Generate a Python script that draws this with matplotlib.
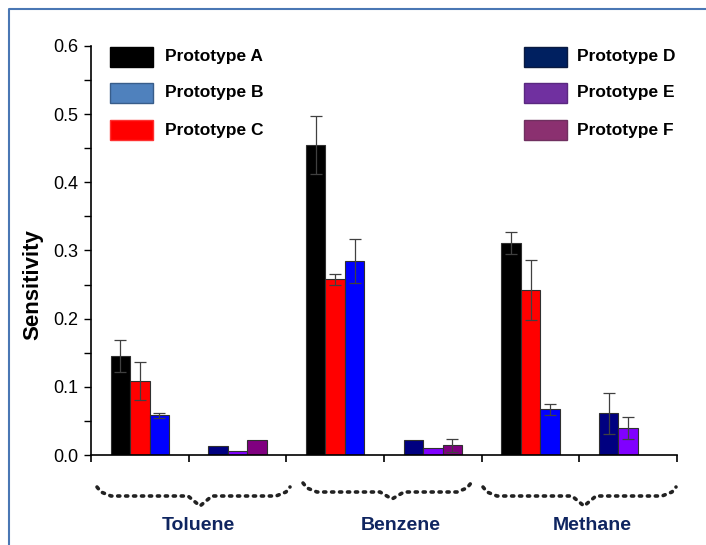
import numpy as np
import matplotlib
matplotlib.use('Agg')
import matplotlib.pyplot as plt
from matplotlib.patches import Rectangle
from matplotlib.lines import Line2D

plt.rcParams['font.family'] = ['Liberation Sans', 'DejaVu Sans']

# data
groups = ['Toluene', 'Benzene', 'Methane']
proto_a = [0.145, 0.455, 0.311]
proto_a_err = [0.023, 0.043, 0.016]
proto_c = [0.109, 0.258, 0.242]
proto_c_err = [0.028, 0.008, 0.044]
proto_b = [0.058, 0.285, 0.067]
proto_b_err = [0.004, 0.032, 0.008]
proto_d = [0.013, 0.022, 0.061]
proto_d_err = [0.0, 0.0, 0.030]
proto_e = [0.006, 0.011, 0.040]
proto_e_err = [0.0, 0.0, 0.016]
proto_f = [0.022, 0.014, np.nan]
proto_f_err = [0.0, 0.010, 0.0]

W, H = 706, 545
fig = plt.figure(figsize=(W / 100, H / 100), dpi=100)
ax = fig.add_axes([91 / W, 1 - 455 / H, 586 / W, 409 / H])

idx = np.arange(len(groups)) * 2
width = 0.2
series = [
    (proto_a, proto_a_err, '#000000', 0.3),
    (proto_c, proto_c_err, '#FF0000', 0.5),
    (proto_b, proto_b_err, '#0000FF', 0.7),
    (proto_d, proto_d_err, '#000080', 1.3),
    (proto_e, proto_e_err, '#8000FF', 1.5),
    (proto_f, proto_f_err, '#800080', 1.7),
]
for vals, errs, col, off in series:
    ax.bar(idx + off, vals, width, color=col, edgecolor='#303030', linewidth=0.8, zorder=2)
    v = np.array(vals, dtype=float)
    e = np.array(errs, dtype=float)
    m = (e > 0) & ~np.isnan(v)
    ax.errorbar((idx + off)[m], v[m], yerr=e[m], fmt='none', ecolor='#404040',
                elinewidth=0.9, capsize=4, capthick=0.9, zorder=3)

ax.set_xlim(0, 6)
ax.set_ylim(0, 0.6)
ax.set_xticks(np.arange(0, 7))
ax.set_xticklabels([])
ax.set_yticks(np.arange(0, 0.61, 0.1))
ax.set_yticklabels(['0.0', '0.1', '0.2', '0.3', '0.4', '0.5', '0.6'])
ax.set_yticks(np.arange(0.05, 0.6, 0.1), minor=True)
ax.tick_params(axis='y', which='major', direction='out', length=5, width=1, labelsize=13, pad=4)
ax.tick_params(axis='y', which='minor', direction='out', length=5, width=1)
ax.tick_params(axis='x', which='major', direction='out', length=5, width=1.2)
for s in ['top', 'right']:
    ax.spines[s].set_visible(False)
for s in ['left', 'bottom']:
    ax.spines[s].set_linewidth(1.2)

fig.text(33 / W, 1 - 285 / H, 'Sensitivity', rotation=90, fontsize=16, fontweight='bold',
         ha='center', va='center')

# legend drawn as boxes + labels
legend_left = [('Prototype A', '#000000', '#000000'),
               ('Prototype B', '#4F81BD', '#385D8A'),
               ('Prototype C', '#FF0000', '#FF3030')]
legend_right = [('Prototype D', '#002060', '#0A1A40'),
                ('Prototype E', '#7030A0', '#5A2880'),
                ('Prototype F', '#8B3070', '#703060')]
row_y = [57, 93, 130]
for items, bx, tx in [(legend_left, 110, 165), (legend_right, 524, 577)]:
    for (lab, fc, ec), yc in zip(items, row_y):
        fig.patches.append(Rectangle((bx / W, 1 - (yc + 10) / H), 43 / W, 20 / H,
                                     transform=fig.transFigure, facecolor=fc,
                                     edgecolor=ec, linewidth=1))
        fig.text(tx / W, 1 - yc / H, lab, fontsize=12.5, fontweight='bold',
                 ha='left', va='center')

# dotted braces and group names
braces = [(97, 200, 290, 487, 496, 506), (303, 392, 471, 483, 492, 499), (483, 584, 676, 487, 496, 506)]
label_x = [198, 401, 592]
for (l, c, r, ytop, yflat, ydip), name, lx in zip(braces, groups, label_x):
    xs = [l, l + 4, l + 14, c - 12, c, c + 12, r - 14, r - 4, r]
    ys = [ytop, yflat - 4, yflat, yflat, ydip, yflat, yflat, yflat - 4, ytop]
    fig.lines.append(Line2D(np.array(xs) / W, 1 - np.array(ys) / H, transform=fig.transFigure,
                            color='#222222', linestyle=(0, (0.6, 1.6)), linewidth=2.6,
                            dash_capstyle='round'))
    fig.text(lx / W, 1 - 526 / H, name, fontsize=14, fontweight='bold', color='#0F2560',
             ha='center', va='center')

# outer frame (left and top edges visible)
fig.lines.append(Line2D([9 / W, 9 / W, 1.0], [0.0, 1 - 9 / H, 1 - 9 / H], transform=fig.transFigure,
                        color='#4A77B4', linewidth=1.5))

fig.savefig('out.png', dpi=100)
